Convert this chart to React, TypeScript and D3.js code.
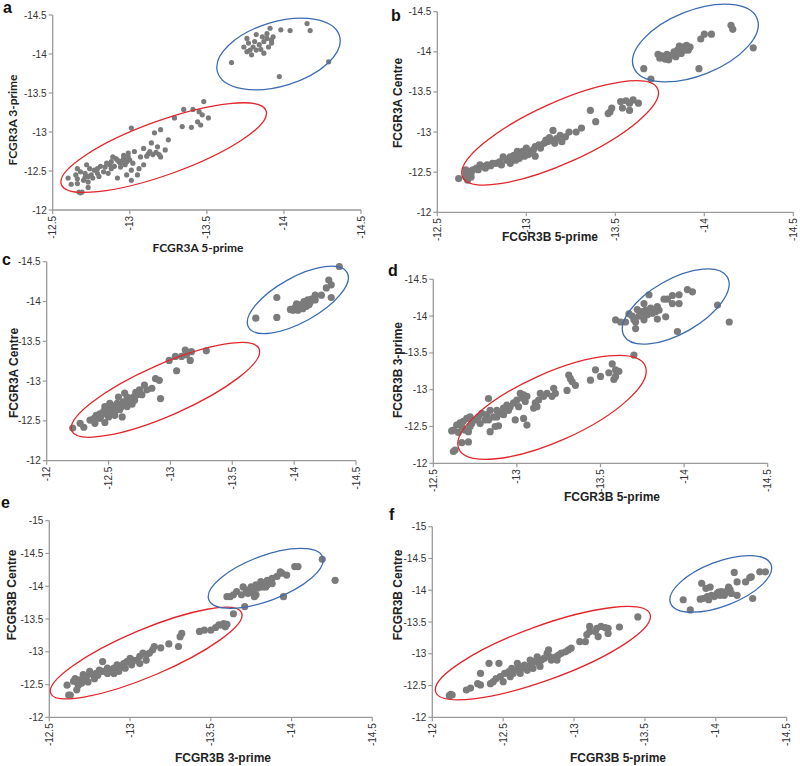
import React from "react";
import * as d3 from "d3";

type P = [number, number];

// ---------- Data ----------
const ticksHalf12to145 = [-12, -12.5, -13, -13.5, -14, -14.5];
const ticks125to145 = [-12.5, -13, -13.5, -14, -14.5];
const ticks12to15 = [-12, -12.5, -13, -13.5, -14, -14.5, -15];

const pointsA: P[] = [
  [-14.15,-14.39],[-14.17,-14.30],[-13.91,-14.33],[-13.98,-14.31],[-14.04,-14.30],[-13.82,-14.25],[-14.29,-13.90],[-13.97,-13.71],[-13.66,-13.89],
  [-13.77,-14.14],[-13.80,-14.09],[-13.84,-14.12],[-13.87,-14.16],[-13.89,-14.20],[-13.92,-14.18],[-13.90,-14.09],[-13.85,-14.06],[-13.79,-13.99],[-13.76,-14.03],[-13.87,-14.01],[-13.82,-14.05],[-13.92,-14.14],[-13.74,-14.09],[-13.81,-14.16],[-13.89,-14.26],[-13.76,-14.20],[-13.86,-14.22],[-13.93,-14.22],[-13.78,-14.05],
  [-13.48,-13.39],[-13.45,-13.26],[-13.51,-13.18],[-13.35,-13.29],[-13.41,-13.29],[-13.47,-13.22],[-13.29,-13.18],[-13.34,-13.07],[-13.40,-13.06],[-13.44,-13.13],[-13.46,-13.09],[-13.20,-13.03],[-13.16,-12.99],[-13.25,-12.90],[-13.01,-13.05],[-13.14,-12.86],[-13.09,-12.79],[-13.18,-12.81],[-13.23,-12.77],[-13.13,-12.75],[-13.15,-12.71],[-13.20,-12.68],[-13.07,-12.68],[-13.03,-12.75],
  [-12.89,-12.68],[-12.92,-12.64],[-12.94,-12.60],[-12.96,-12.66],[-12.99,-12.68],[-12.97,-12.58],[-12.90,-12.56],[-12.87,-12.58],[-12.85,-12.60],[-12.81,-12.56],[-12.83,-12.49],[-12.86,-12.47],[-12.92,-12.41],[-12.98,-12.45],[-13.01,-12.51],[-13.05,-12.45],[-13.01,-12.38],[-13.06,-12.53],[-13.09,-12.58],
  [-12.74,-12.53],[-12.72,-12.58],[-12.77,-12.51],[-12.71,-12.47],[-12.68,-12.49],[-12.66,-12.53],[-12.65,-12.45],[-12.70,-12.38],[-12.73,-12.36],[-12.76,-12.41],[-12.80,-12.43],[-12.73,-12.43],
  [-12.66,-12.34],[-12.73,-12.29],[-12.68,-12.22],[-12.69,-12.23],[-12.62,-12.33],[-12.60,-12.41],[-12.66,-12.40],
  [-12.93,-12.62],[-12.95,-12.63],[-12.91,-12.66],[-12.88,-12.62],[-12.98,-12.62],[-13.00,-12.64],[-12.84,-12.55],[-12.79,-12.53],[-12.88,-12.53],[-12.94,-12.55],[-13.02,-12.60],[-12.79,-12.47],[-12.75,-12.45],[-12.71,-12.42],[-12.67,-12.23],[-13.12,-12.72],[-13.17,-12.74],[-13.11,-12.69],[-13.19,-12.71],[-12.96,-12.70],[-12.99,-12.73],
];

const pointsB: P[] = [
  [-14.275,-14.05],[-14.15,-14.33],[-14.16,-14.28],[-14.00,-14.22],[-14.04,-14.22],[-13.98,-14.16],[-13.97,-13.79],[-13.66,-13.79],[-13.70,-13.66],
  [-13.74,-13.97],[-13.77,-13.94],[-13.80,-13.90],[-13.83,-13.96],[-13.85,-14.02],[-13.88,-14.06],[-13.90,-14.08],[-13.92,-14.06],[-13.87,-13.98],[-13.84,-13.94],[-13.81,-13.95],[-13.78,-13.91],[-13.89,-14.02],[-13.86,-14.07],[-13.83,-14.00],[-13.75,-13.92],[-13.91,-14.02],[-13.76,-13.95],[-13.79,-13.97],[-13.86,-14.03],
  [-13.58,-13.36],[-13.56,-13.39],[-13.53,-13.38],[-13.63,-13.36],[-13.60,-13.40],[-13.54,-13.30],[-13.58,-13.27],[-13.48,-13.30],[-13.47,-13.25],[-13.46,-13.23],[-13.36,-13.27],[-13.39,-13.13],[-13.31,-13.05],[-13.28,-13.00],[-13.24,-13.00],[-13.22,-12.94],[-13.19,-12.96],[-13.17,-12.92],[-13.14,-12.90],[-13.15,-13.02],[-13.12,-12.88],[-13.16,-12.86],[-13.20,-12.88],[-13.10,-12.86],
  [-13.05,-12.82],[-13.04,-12.78],[-13.02,-12.76],[-13.00,-12.80],[-12.98,-12.76],[-12.96,-12.74],[-12.95,-12.76],[-12.93,-12.71],[-12.91,-12.69],[-12.89,-12.65],[-12.95,-12.68],[-12.99,-12.70],[-13.05,-12.70],[-13.01,-12.72],[-12.87,-12.69],[-12.85,-12.63],[-12.83,-12.61],[-12.81,-12.61],[-12.78,-12.59],[-12.76,-12.57],[-12.74,-12.59],[-12.72,-12.55],[-12.70,-12.53],[-12.68,-12.51],[-12.66,-12.49],[-12.66,-12.44],[-12.69,-12.49],[-12.77,-12.55],[-12.86,-12.59],[-12.91,-12.61],[-12.94,-12.65],[-12.96,-12.67],
  [-12.62,-12.42],[-12.66,-12.53],[-12.67,-12.40],[-12.69,-12.44],[-13.08,-12.80],[-13.07,-12.84],[-13.11,-12.90],[-13.13,-12.93],[-12.97,-12.72],[-12.90,-12.66],[-12.80,-12.58],[-12.73,-12.53],[-13.03,-12.74],
];

const pointsC: P[] = [
  [-14.365,-14.44],[-14.28,-14.27],[-14.30,-14.21],[-14.26,-14.17],[-14.30,-14.05],[-14.22,-14.08],[-14.17,-14.08],[-13.69,-13.79],[-13.86,-13.80],[-13.86,-14.05],
  [-13.97,-13.90],[-14.01,-13.93],[-14.03,-13.89],[-14.06,-13.96],[-14.09,-13.98],[-14.11,-14.02],[-14.14,-14.03],[-14.10,-13.94],[-14.05,-13.93],[-14.07,-13.91],[-14.02,-13.97],[-14.13,-13.99],[-14.17,-14.02],[-13.99,-13.89],[-14.08,-14.00],[-14.12,-13.96],[-14.04,-13.95],
  [-13.29,-13.38],[-13.17,-13.37],[-13.12,-13.39],[-13.13,-13.33],[-13.09,-13.31],[-13.16,-13.26],[-13.04,-13.31],[-12.99,-13.26],[-13.05,-13.13],[-12.88,-13.03],[-12.91,-13.01],[-12.92,-12.78],
  [-12.85,-12.91],[-12.79,-12.95],[-12.75,-12.89],[-12.77,-12.83],[-12.81,-12.89],[-12.73,-12.83],[-12.70,-12.80],[-12.67,-12.76],[-12.65,-12.80],[-12.62,-12.74],[-12.59,-12.70],[-12.57,-12.72],[-12.54,-12.68],[-12.51,-12.66],[-12.48,-12.64],[-12.46,-12.62],[-12.43,-12.59],[-12.47,-12.68],[-12.53,-12.59],[-12.55,-12.57],[-12.59,-12.64],[-12.65,-12.68],[-12.69,-12.71],[-12.71,-12.76],[-12.61,-12.55],[-12.50,-12.55],[-12.43,-12.53],[-12.40,-12.57],[-12.47,-12.48],[-12.39,-12.47],[-12.35,-12.51],[-12.38,-12.53],[-12.58,-12.80],[-12.63,-12.85],[-12.51,-12.72],
  [-12.30,-12.42],[-12.27,-12.47],[-12.21,-12.41],[-12.56,-12.64],[-12.60,-12.67],[-12.64,-12.72],[-12.52,-12.62],[-12.49,-12.58],[-12.44,-12.56],[-12.68,-12.78],[-12.72,-12.86],[-12.55,-12.69],
];

const pointsD: P[] = [
  [-14.27,-13.92],[-14.20,-14.15],[-14.02,-14.36],[-14.05,-14.33],[-13.97,-14.29],[-13.97,-14.17],[-13.93,-14.17],[-13.93,-14.28],[-13.88,-14.23],[-13.90,-14.23],[-13.89,-13.99],[-13.84,-13.96],[-13.96,-13.79],[-13.59,-13.95],[-13.62,-13.92],[-13.65,-13.92],[-13.67,-14.03],[-13.70,-13.95],[-13.71,-13.83],[-13.70,-13.47],[-13.79,-14.29],[-13.76,-14.17],
  [-13.72,-14.09],[-13.75,-14.06],[-13.77,-14.08],[-13.80,-14.11],[-13.82,-14.08],[-13.84,-14.13],[-13.78,-14.02],[-13.81,-14.04],[-13.83,-14.06],[-13.74,-14.02],[-13.76,-13.95],[-13.73,-14.00],[-13.69,-14.00],[-13.71,-13.92],[-13.85,-14.08],
  [-13.57,-13.35],[-13.59,-13.27],[-13.61,-13.25],[-13.59,-13.18],[-13.58,-13.14],[-13.55,-13.23],[-13.50,-13.18],[-13.47,-13.27],[-13.44,-13.13],[-13.31,-13.20],[-13.32,-13.15],[-13.33,-13.11],[-13.35,-13.06],[-13.30,-12.99],[-13.22,-13.02],[-13.23,-12.95],[-13.21,-12.91],[-13.18,-12.95],[-13.16,-12.91],[-13.14,-12.95],[-13.13,-12.86],[-13.11,-12.82],[-13.10,-12.75],[-13.12,-12.77],[-13.06,-12.91],[-13.05,-12.84],[-13.02,-12.95],[-13.03,-12.89],[-13.04,-12.93],[-13.00,-12.86],[-13.01,-12.77],[-12.98,-12.82],[-12.96,-12.77],[-12.95,-12.72],[-12.94,-12.79],[-12.92,-12.75],[-12.90,-12.68],[-12.92,-12.66],[-12.88,-12.72],[-12.86,-12.63],[-12.84,-12.72],[-12.83,-12.88],[-12.88,-12.63],[-12.82,-12.66],[-12.81,-12.59],[-12.79,-12.68],[-12.77,-12.63],[-12.78,-12.54],[-12.75,-12.59],[-12.73,-12.54],[-12.72,-12.63],[-12.70,-12.61],[-12.68,-12.57],[-12.67,-12.50],[-12.64,-12.52],[-12.62,-12.45],[-12.65,-12.42],[-12.66,-12.55],[-12.69,-12.45],[-12.71,-12.43],[-12.72,-12.50],[-12.84,-12.43],[-12.87,-12.50],[-12.89,-12.51],[-13.04,-12.61],[-13.06,-12.52],[-12.99,-12.59],[-12.83,-12.59],
  [-12.61,-12.44],[-12.63,-12.18],[-12.62,-12.16],[-12.67,-12.28],[-12.71,-12.29],
];

const pointsE: P[] = [
  [-14.19,-14.41],[-14.27,-14.09],[-14.02,-14.30],[-14.04,-14.30],[-13.95,-13.84],[-13.71,-13.69],[-13.64,-13.58],[-13.60,-13.84],[-13.62,-13.84],[-13.64,-13.87],
  [-13.66,-13.92],[-13.69,-13.87],[-13.72,-13.94],[-13.75,-13.99],[-13.78,-14.02],[-13.81,-14.07],[-13.85,-14.09],[-13.88,-14.12],[-13.91,-14.15],[-13.94,-14.20],[-13.97,-14.17],[-13.93,-14.22],[-13.76,-13.92],[-13.79,-13.97],[-13.82,-13.99],[-13.85,-14.02],[-13.88,-14.04],[-13.70,-13.99],[-13.73,-13.89],[-13.77,-13.84],[-13.84,-13.99],[-13.78,-13.87],
  [-13.59,-13.38],[-13.57,-13.41],[-13.55,-13.41],[-13.58,-13.43],[-13.60,-13.42],[-13.53,-13.37],[-13.50,-13.33],[-13.46,-13.33],[-13.43,-13.31],[-13.32,-13.28],[-13.31,-13.23],[-13.30,-13.08],[-13.24,-13.12],[-13.19,-13.06],[-13.14,-13.03],[-13.15,-13.08],[-13.12,-12.98],[-13.10,-12.95],[-13.08,-12.98],[-13.06,-12.93],[-13.04,-12.87],[-13.02,-12.87],[-13.00,-12.90],[-12.98,-12.85],[-12.96,-12.82],[-12.94,-12.77],[-12.92,-12.80],[-12.90,-12.75],[-12.88,-12.72],[-12.86,-12.75],[-12.83,-12.70],[-12.81,-12.72],[-12.79,-12.67],[-12.77,-12.65],[-12.75,-12.70],[-12.73,-12.62],[-12.71,-12.65],[-12.69,-12.57],[-12.67,-12.54],[-12.66,-12.59],[-12.83,-12.85],[-12.93,-12.70],[-12.97,-12.75],[-13.01,-12.80],[-13.06,-12.82],[-13.10,-12.87],[-12.78,-12.59],[-12.74,-12.54],[-12.70,-12.52],[-12.68,-12.49],[-12.86,-12.67],[-12.90,-12.67],
  [-12.61,-12.49],[-12.63,-12.34],[-12.62,-12.34],[-12.67,-12.42],[-12.65,-12.55],[-12.72,-12.60],[-12.80,-12.64],
];

const pointsF: P[] = [
  [-14.13,-14.28],[-14.35,-14.29],[-14.31,-14.29],[-14.25,-14.21],[-14.24,-14.20],[-14.21,-14.13],[-14.15,-14.13],[-14.26,-13.87],[-14.15,-13.92],[-13.90,-14.11],[-13.93,-14.03],[-13.96,-14.05],[-13.77,-13.85],[-13.82,-13.69],
  [-13.89,-13.86],[-13.91,-13.87],[-13.94,-13.90],[-13.97,-13.92],[-14.01,-13.95],[-14.04,-13.98],[-14.08,-13.99],[-14.10,-14.01],[-14.11,-13.95],[-14.06,-13.92],[-14.03,-13.92],[-13.99,-13.90],[-14.09,-14.05],[-13.95,-13.85],[-14.02,-13.97],[-14.07,-13.96],
  [-13.45,-13.58],[-13.32,-13.42],[-13.24,-13.40],[-13.22,-13.41],[-13.19,-13.43],[-13.16,-13.40],[-13.15,-13.35],[-13.11,-13.43],[-13.17,-13.27],[-13.24,-13.32],[-13.11,-13.35],[-13.09,-13.30],[-13.04,-13.19],[-13.08,-13.19],[-12.98,-13.09],[-12.96,-13.06],[-12.94,-13.03],[-12.91,-13.01],[-12.89,-12.98],[-12.87,-12.95],[-12.84,-12.90],[-12.82,-13.06],[-12.81,-13.01],[-12.79,-12.93],[-12.77,-12.90],[-12.75,-12.85],[-12.72,-12.88],[-12.70,-12.82],[-12.68,-12.80],[-12.65,-12.82],[-12.63,-12.77],[-12.61,-12.80],[-12.58,-12.74],[-12.56,-12.77],[-12.54,-12.72],[-12.51,-12.69],[-12.48,-12.64],[-12.45,-12.61],[-12.43,-12.56],[-12.41,-12.53],[-12.47,-12.85],[-12.50,-12.56],[-12.55,-12.64],[-12.57,-12.69],[-12.62,-12.69],[-12.67,-12.74],[-12.71,-12.77],[-12.76,-12.80],[-12.83,-12.95],[-12.88,-12.90],[-12.60,-12.85],[-12.74,-12.95],[-12.69,-12.90],
  [-12.40,-12.85],[-12.34,-12.69],[-12.34,-12.51],[-12.32,-12.53],[-12.27,-12.46],[-12.24,-12.43],[-12.14,-12.35],[-12.12,-12.34],[-12.13,-12.36],
];

// Ellipse annotations: centre in data units, semi-axes in px, tilt in degrees
type Ell = { cx: number; cy: number; rx: number; ry: number; rot: number; color: string };
const RED = "#e2262b";
const BLUE = "#3b6cb2";
const ellipsesA: Ell[] = [
  { cx: -13.22, cy: -12.80, rx: 108.8, ry: 27, rot: -19.8, color: RED },
  { cx: -13.965, cy: -14.0, rx: 63.6, ry: 32.2, rot: -16.5, color: BLUE },
];
const ellipsesB: Ell[] = [
  { cx: -13.19, cy: -12.99, rx: 107, ry: 30.5, rot: -24.3, color: RED },
  { cx: -13.95, cy: -14.11, rx: 66.4, ry: 32.4, rot: -21.7, color: BLUE },
];
const ellipsesC: Ell[] = [
  { cx: -12.96, cy: -12.89, rx: 102.2, ry: 25.6, rot: -23.7, color: RED },
  { cx: -14.03, cy: -14.02, rx: 56.4, ry: 22.4, rot: -29, color: BLUE },
];
const ellipsesD: Ell[] = [
  { cx: -13.21, cy: -12.76, rx: 102, ry: 34, rot: -24.1, color: RED },
  { cx: -13.95, cy: -14.13, rx: 59.4, ry: 27.1, rot: -29.6, color: BLUE },
];
const ellipsesE: Ell[] = [
  { cx: -13.10, cy: -12.98, rx: 103.6, ry: 23.5, rot: -22.9, color: RED },
  { cx: -13.84, cy: -14.12, rx: 60.8, ry: 22.4, rot: -20.6, color: BLUE },
];
const ellipsesF: Ell[] = [
  { cx: -12.78, cy: -13.01, rx: 114, ry: 27.2, rot: -20, color: RED },
  { cx: -14.035, cy: -14.10, rx: 53.8, ry: 22.2, rot: -21, color: BLUE },
];

type PanelProps = {
  letter: string;
  letterPos: [number, number];
  box: { x0: number; x1: number; top: number; bottom: number };
  xDomain: [number, number];
  yDomain: [number, number];
  xTicks: number[];
  yTicks: number[];
  xLabel?: string;
  xLabelPos?: [number, number];
  yLabel: string;
  yLabelPos: [number, number];
  points: P[];
  ellipses: Ell[];
  r: number;
  labelFont: string;
  labelSize: number;
};

const AXIS = "#9a9a9a";
const DOT = "#7b7b7b";
const TICKFONT = "'Liberation Sans', Arial, sans-serif";

function Panel(p: PanelProps) {
  const x = d3.scaleLinear().domain(p.xDomain).range([p.box.x0, p.box.x1]);
  const y = d3.scaleLinear().domain(p.yDomain).range([p.box.bottom, p.box.top]);
  const fmt = (v: number) => String(v);
  return (
    <g>
      <text x={p.letterPos[0]} y={p.letterPos[1]} fontFamily={TICKFONT} fontWeight="bold" fontSize={16} fill="#111">
        {p.letter}
      </text>
      {/* axes */}
      <line x1={p.box.x0} x2={p.box.x0} y1={p.box.top} y2={p.box.bottom} stroke={AXIS} strokeWidth={1.3} />
      <line x1={p.box.x0} x2={p.box.x1} y1={p.box.bottom} y2={p.box.bottom} stroke={AXIS} strokeWidth={1.3} />
      {p.yTicks.map((t) => (
        <g key={"y" + t}>
          <line x1={p.box.x0 - 4} x2={p.box.x0} y1={y(t)} y2={y(t)} stroke={AXIS} strokeWidth={1.2} />
          <text x={p.box.x0 - 6} y={y(t)} dy="0.35em" textAnchor="end" fontFamily={TICKFONT} fontSize={10} fill="#333">
            {fmt(t)}
          </text>
        </g>
      ))}
      {p.xTicks.map((t) => (
        <g key={"x" + t}>
          <line x1={x(t)} x2={x(t)} y1={p.box.bottom} y2={p.box.bottom + 4} stroke={AXIS} strokeWidth={1.2} />
          <text
            transform={`translate(${x(t)},${p.box.bottom + 6}) rotate(-90)`}
            dy="0.35em"
            textAnchor="end"
            fontFamily={TICKFONT}
            fontSize={10}
            fill="#333"
          >
            {fmt(t)}
          </text>
        </g>
      ))}
      {p.xLabel && p.xLabelPos && (
        <text x={p.xLabelPos[0]} y={p.xLabelPos[1]} textAnchor="middle" fontFamily={p.labelFont} fontWeight="bold" fontSize={p.labelSize} fill="#222">
          {p.xLabel}
        </text>
      )}
      <text
        transform={`translate(${p.yLabelPos[0]},${p.yLabelPos[1]}) rotate(-90)`}
        dy="0.35em"
        textAnchor="middle"
        fontFamily={p.labelFont}
        fontWeight="bold"
        fontSize={p.labelSize}
        fill="#222"
      >
        {p.yLabel}
      </text>
      {p.points.map((d, i) => (
        <circle key={i} cx={x(d[0])} cy={y(d[1])} r={p.r} fill={DOT} />
      ))}
      {p.ellipses.map((e, i) => (
        <ellipse
          key={"e" + i}
          cx={0}
          cy={0}
          rx={e.rx}
          ry={e.ry}
          transform={`translate(${x(e.cx)},${y(e.cy)}) rotate(${e.rot})`}
          fill="none"
          stroke={e.color}
          strokeWidth={1.3}
        />
      ))}
    </g>
  );
}

export default function App() {
  const arial = "'Liberation Sans', Arial, sans-serif";
  const calibri = "Lato, 'Open Sans', sans-serif";
  return (
    <svg width={800} height={766} style={{ position: "absolute", left: 0, top: 0, background: "#fff" }}>
      <Panel
        letter="a" letterPos={[3, 13]}
        box={{ x0: 52.7, x1: 361, top: 15, bottom: 210 }}
        xDomain={[-12.5, -14.5]} yDomain={[-12, -14.5]}
        xTicks={ticks125to145} yTicks={ticksHalf12to145}
        xLabel="FCGR3A 5-prime" xLabelPos={[198, 252]}
        yLabel="FCGR3A 3-prime" yLabelPos={[13, 120]}
        points={pointsA} ellipses={ellipsesA} r={2.6}
        labelFont={calibri} labelSize={12}
      />
      <Panel
        letter="b" letterPos={[391, 21]}
        box={{ x0: 437.3, x1: 793.3, top: 11.7, bottom: 212.3 }}
        xDomain={[-12.5, -14.5]} yDomain={[-12, -14.5]}
        xTicks={ticks125to145} yTicks={ticksHalf12to145}
        xLabel="FCGR3B 5-prime" xLabelPos={[550, 241]}
        yLabel="FCGR3A Centre" yLabelPos={[398, 103]}
        points={pointsB} ellipses={ellipsesB} r={3.6}
        labelFont={arial} labelSize={12}
      />
      <Panel
        letter="c" letterPos={[2, 265]}
        box={{ x0: 46.7, x1: 356, top: 261.7, bottom: 460.7 }}
        xDomain={[-12, -14.5]} yDomain={[-12, -14.5]}
        xTicks={ticksHalf12to145} yTicks={ticksHalf12to145}
        yLabel="FCGR3A Centre" yLabelPos={[14, 373]}
        points={pointsC} ellipses={ellipsesC} r={3.6}
        labelFont={arial} labelSize={12}
      />
      <Panel
        letter="d" letterPos={[388, 276]}
        box={{ x0: 433.3, x1: 767.7, top: 279.3, bottom: 463.3 }}
        xDomain={[-12.5, -14.5]} yDomain={[-12, -14.5]}
        xTicks={ticks125to145} yTicks={ticksHalf12to145}
        xLabel="FCGR3B 5-prime" xLabelPos={[612, 501]}
        yLabel="FCGR3B 3-prime" yLabelPos={[398, 370]}
        points={pointsD} ellipses={ellipsesD} r={3.6}
        labelFont={arial} labelSize={12}
      />
      <Panel
        letter="e" letterPos={[1, 508]}
        box={{ x0: 49.3, x1: 372.3, top: 520.7, bottom: 717.3 }}
        xDomain={[-12.5, -14.5]} yDomain={[-12, -15]}
        xTicks={ticks125to145} yTicks={ticks12to15}
        xLabel="FCGR3B 3-prime" xLabelPos={[223, 762]}
        yLabel="FCGR3B Centre" yLabelPos={[12, 595]}
        points={pointsE} ellipses={ellipsesE} r={3.6}
        labelFont={arial} labelSize={12}
      />
      <Panel
        letter="f" letterPos={[389, 520]}
        box={{ x0: 432.3, x1: 786.7, top: 526.7, bottom: 717.3 }}
        xDomain={[-12, -14.5]} yDomain={[-12, -15]}
        xTicks={ticksHalf12to145} yTicks={ticks12to15}
        xLabel="FCGR3B 5-prime" xLabelPos={[618, 762]}
        yLabel="FCGR3B Centre" yLabelPos={[398, 595]}
        points={pointsF} ellipses={ellipsesF} r={3.6}
        labelFont={arial} labelSize={12}
      />
    </svg>
  );
}
